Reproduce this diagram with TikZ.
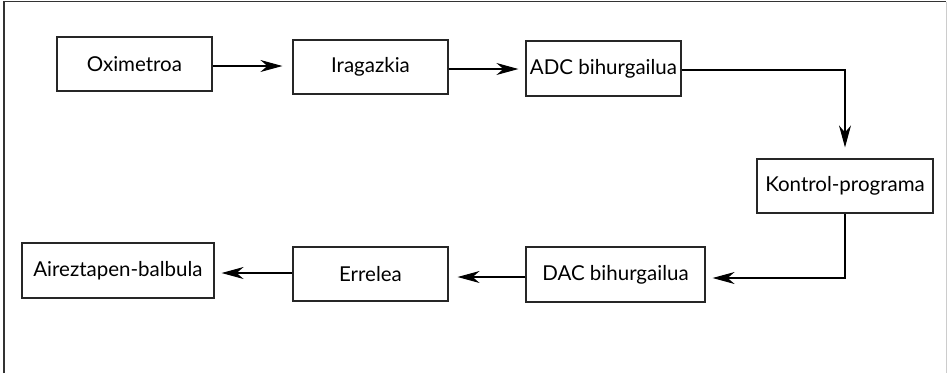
\documentclass[tikz,border=0pt]{standalone}
\usepackage{fontspec}
\setmainfont{Lato}
\usetikzlibrary{arrows.meta}
\begin{document}
\begin{tikzpicture}[x=1bp,y=-1bp,
  blk/.style={draw=black!85,line width=1.2bp,fill=white,inner sep=0pt,font=\fontsize{20.5bp}{24bp}\selectfont},
  arr/.style={draw=black,line width=1.1bp,-{Stealth[length=22bp,width=12bp,inset=7bp]}}]
\useasboundingbox (0,0) rectangle (947,373);
\draw[black!80,line width=1.5bp] (4,373) -- (4,1.5) -- (946,1.5);
\draw[black!20,line width=1bp] (946,1.5) -- (946,373);
\node[blk,minimum width=155bp,minimum height=54bp] (oxi) at (134.5,64) {Oximetroa};
\node[blk,minimum width=155bp,minimum height=54bp] (ira) at (370.5,67) {Iragazkia};
\node[blk,minimum width=155bp,minimum height=55bp] (adc) at (603.5,68.5) {ADC bihurgailua};
\node[blk,minimum width=176bp,minimum height=54bp] (kon) at (845,186) {Kontrol-programa};
\node[blk,minimum width=179bp,minimum height=55bp] (dac) at (615.5,274.5) {DAC bihurgailua};
\node[blk,minimum width=155bp,minimum height=54bp] (err) at (370.5,274) {Errelea};
\node[blk,minimum width=192bp,minimum height=55bp] (air) at (118,270.5) {Aireztapen-balbula};
\draw[arr,shorten >=10bp] ([yshift=-2bp]oxi.east) -- ([yshift=-2bp]oxi.east -| ira.west);
\draw[arr,shorten >=7bp] ([yshift=-2bp]ira.east) -- ([yshift=-2bp]ira.east -| adc.west);
\draw[arr,shorten >=11bp] ([yshift=-1.5bp]adc.east) -| (kon.north);
\draw[arr,shorten >=7bp] (kon.south) |- ([yshift=-3.5bp]dac.east);
\draw[arr,shorten >=9bp] ([yshift=-2.5bp]dac.west) -- ([yshift=-2.5bp]dac.west -| err.east);
\draw[arr,shorten >=7bp] ([yshift=1bp]err.west) -- ([yshift=1bp]err.west -| air.east);
\end{tikzpicture}
\end{document}
